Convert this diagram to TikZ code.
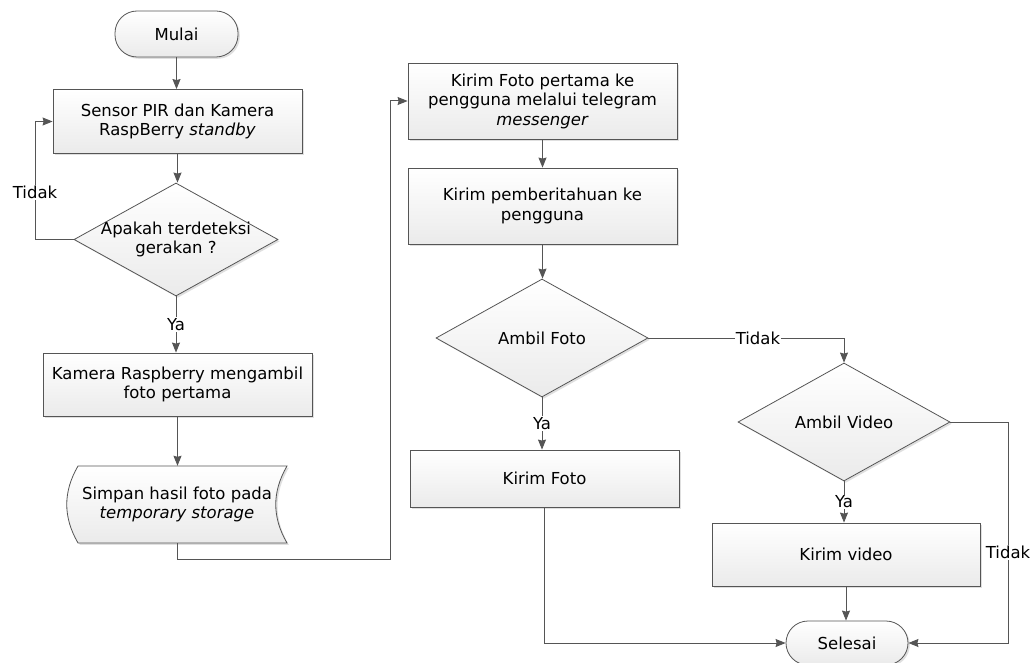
\documentclass[tikz,border=0pt]{standalone}
\usepackage{fontspec}
\setmainfont{DejaVu Sans}
\usetikzlibrary{shapes.geometric,arrows.meta,shadows,calc}
\definecolor{ln}{HTML}{555555}
\tikzset{
 shad/.style={drop shadow={shadow xshift=1.8pt,shadow yshift=-1.8pt,fill=black!25,opacity=0.5}},
 base/.style={draw=ln, line width=0.8pt, top color=white, bottom color=black!8, shad},
 box/.style={base, rectangle, align=center, inner sep=0pt},
 term/.style={base, rectangle, rounded corners=22pt, align=center, inner sep=0pt},
 dia/.style={base, diamond, inner sep=0pt},
 conn/.style={draw=ln, line width=1pt},
 arr/.style={conn, -{Stealth[length=10pt,width=8pt,inset=1pt]}},
 lbl/.style={fill=white, inner sep=1pt},
 txt/.style={align=center, inner sep=0pt},
}
\begin{document}
\begin{tikzpicture}[x=1pt,y=-1pt, every node/.append style={font=\fontsize{16.5}{19.5}\selectfont}]
\useasboundingbox (0,0) rectangle (1031,663);
% left column
\node[term, minimum width=123pt, minimum height=46pt] (mulai) at (176.5,34) {Mulai};
\node[box, minimum width=249pt, minimum height=64pt] (sensor) at (177.5,121.5) {Sensor PIR dan Kamera\\RaspBerry \textit{standby}};
\node[dia, minimum width=204pt, minimum height=113pt] (d1) at (176,239.5) {};
\node[txt] at (d1) {Apakah terdeteksi\\gerakan ?};
\node[box, minimum width=269pt, minimum height=63pt] (kamera) at (177.5,384.5) {Kamera Raspberry mengambil\\foto pertama};
% stored data shape
\path[base] (78,466) -- (287,466) to[bend right=30] (287,543) -- (78,543) to[bend left=30] (78,466) -- cycle;
\node[txt, minimum width=220pt, minimum height=77pt] (store) at (177,504.5) {Simpan hasil foto pada\\\textit{temporary storage}};
% right column
\node[box, minimum width=269pt, minimum height=76pt] (kirim1) at (542.5,101) {Kirim Foto pertama ke\\pengguna melalui telegram\\\textit{messenger}};
\node[box, minimum width=269pt, minimum height=76pt] (kirim2) at (542.5,206) {Kirim pemberitahuan ke\\pengguna};
\node[dia, minimum width=212pt, minimum height=118pt] (d2) at (542,338) {};
\node[txt] at (d2) {Ambil Foto};
\node[box, minimum width=269pt, minimum height=57pt] (kfoto) at (544.5,478.5) {Kirim Foto};
\node[dia, minimum width=212pt, minimum height=118pt] (d3) at (844,422) {};
\node[txt] at (d3) {Ambil Video};
\node[box, minimum width=268pt, minimum height=63pt] (kvideo) at (846,554.5) {Kirim video};
\node[term, minimum width=122pt, minimum height=44pt] (selesai) at (847,643) {Selesai};
% connectors
\coordinate (l1) at (35,239.5);
\coordinate (c1) at (390,559);
\coordinate (r1) at (1008,422);
\draw[arr] (mulai.south) -- (mulai.south |- sensor.north);
\draw[arr] (sensor.south) -- (sensor.south |- d1.north);
\draw[arr] (d1.west) -- (l1) -- node[lbl,pos=0.4]{Tidak} (l1 |- sensor.west) -- (sensor.west);
\draw[arr] (d1.south) -- node[lbl]{Ya} (d1.south |- kamera.north);
\draw[arr] (kamera.south) -- (kamera.south |- store.north);
\draw[arr] (store.south) |- (c1) |- (kirim1.west);
\draw[arr] (kirim1.south) -- (kirim1.south |- kirim2.north);
\draw[arr] (kirim2.south) -- (kirim2.south |- d2.north);
\draw[arr] (d2.east) -- node[lbl,pos=0.56]{Tidak} (d2.east -| d3.north) -- (d3.north);
\draw[arr] (d2.south) -- node[lbl]{Ya} (d2.south |- kfoto.north);
\draw[arr] (d3.south) -- node[lbl]{Ya} (d3.south |- kvideo.north);
\draw[arr] (kvideo.south) -- (kvideo.south |- selesai.north);
\draw[arr] (kfoto.south) |- (selesai.west);
\draw[arr] (d3.east) -- (r1) -- node[lbl,pos=0.59]{Tidak} (r1 |- selesai.east) -- (selesai.east);
\end{tikzpicture}
\end{document}
